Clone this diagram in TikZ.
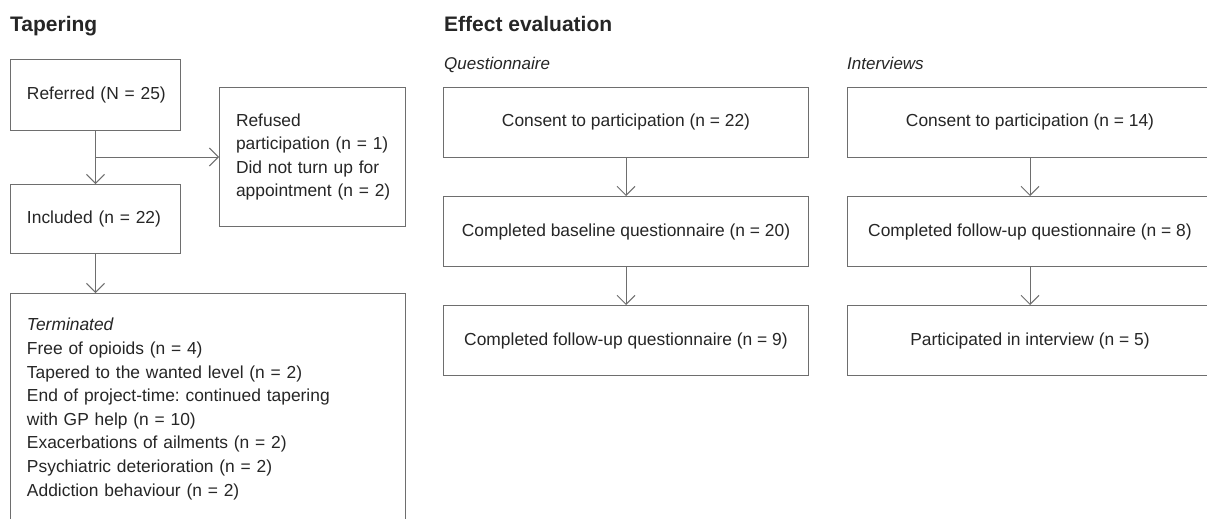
\documentclass[tikz,border=0pt]{standalone}
\usepackage{fontspec}
\setmainfont{Liberation Sans}
\usetikzlibrary{arrows.meta}
\definecolor{linegray}{HTML}{6E6E6E}
\definecolor{txt}{HTML}{262626}
\newcommand{\bodyfont}{\fontsize{17.4}{23.6}\selectfont}
\frenchspacing
\begin{document}
\begin{tikzpicture}[x=1pt,y=-1pt,
  head/.style={anchor=base west,inner sep=0pt,text=txt,font=\fontsize{21}{25}\selectfont\bfseries},
  sub/.style={anchor=base west,inner sep=0pt,text=txt,font=\fontsize{17}{20}\selectfont\itshape},
  lbox/.style={draw=linegray,line width=1pt,anchor=north west,inner xsep=16.5pt,inner ysep=0pt,align=left,text=txt,font=\bodyfont},
  cbox/.style={draw=linegray,line width=1pt,anchor=north west,inner sep=0pt,align=center,minimum width=365pt,minimum height=70pt,text=txt,font=\bodyfont},
  arr/.style={draw=linegray,line width=1pt,-{Straight Barb[length=9pt,width=18pt]}}]
\useasboundingbox (0,0) rectangle (1207,519);
\clip (0,0) rectangle (1207,519);
\fill[white] (0,0) rectangle (1207,519);

\node[head] (hT) at (10,31.5) {Tapering};
\node[head] (hE) at (444,32) {Effect evaluation};
\node[sub] (sQ) at (444,69.5) {Questionnaire};
\node[sub] (sI) at (847,69.5) {Interviews};

\node[lbox,minimum width=170pt,minimum height=71pt,text width=137pt] (ref) at (10,59) {\mbox{Referred (N = 25)}};
\node[lbox,minimum width=186pt,minimum height=139pt,text width=153pt] (refu) at (219,87)
  {\mbox{Refused}\\\mbox{participation (n = 1)}\\\mbox{Did not turn up for}\\\mbox{appointment (n = 2)}};
\node[lbox,minimum width=170pt,minimum height=69pt,text width=137pt] (inc) at (10,184) {\mbox{Included (n = 22)}};
\node[lbox,minimum width=395pt,minimum height=231pt,text width=362pt] (term) at (10,293)
  {\textit{Terminated}\\
   \mbox{Free of opioids (n = 4)}\\
   \mbox{Tapered to the wanted level (n = 2)}\\
   \mbox{End of project-time: continued tapering}\\
   \mbox{with GP help (n = 10)}\\
   \mbox{Exacerbations of ailments (n = 2)}\\
   \mbox{Psychiatric deterioration (n = 2)}\\
   \mbox{Addiction behaviour (n = 2)}};

\node[cbox] (q1) at (443,87) {Consent to participation (n = 22)};
\node[cbox] (q2) at (443,196) {Completed baseline questionnaire (n = 20)};
\node[cbox] (q3) at (443,305) {Completed follow-up questionnaire (n = 9)};
\node[cbox] (i1) at (847,87) {Consent to participation (n = 14)};
\node[cbox] (i2) at (847,196) {Completed follow-up questionnaire (n = 8)};
\node[cbox] (i3) at (847,305) {Participated in interview (n = 5)};

\draw[arr] (ref.south) -- (inc.north);
\draw[arr] (ref.south |- refu.west) -- (refu.west);
\draw[arr] (inc.south) -- (inc.south |- term.north);
\draw[arr] (q1) -- (q2);
\draw[arr] (q2) -- (q3);
\draw[arr] (i1) -- (i2);
\draw[arr] (i2) -- (i3);
\end{tikzpicture}
\end{document}
